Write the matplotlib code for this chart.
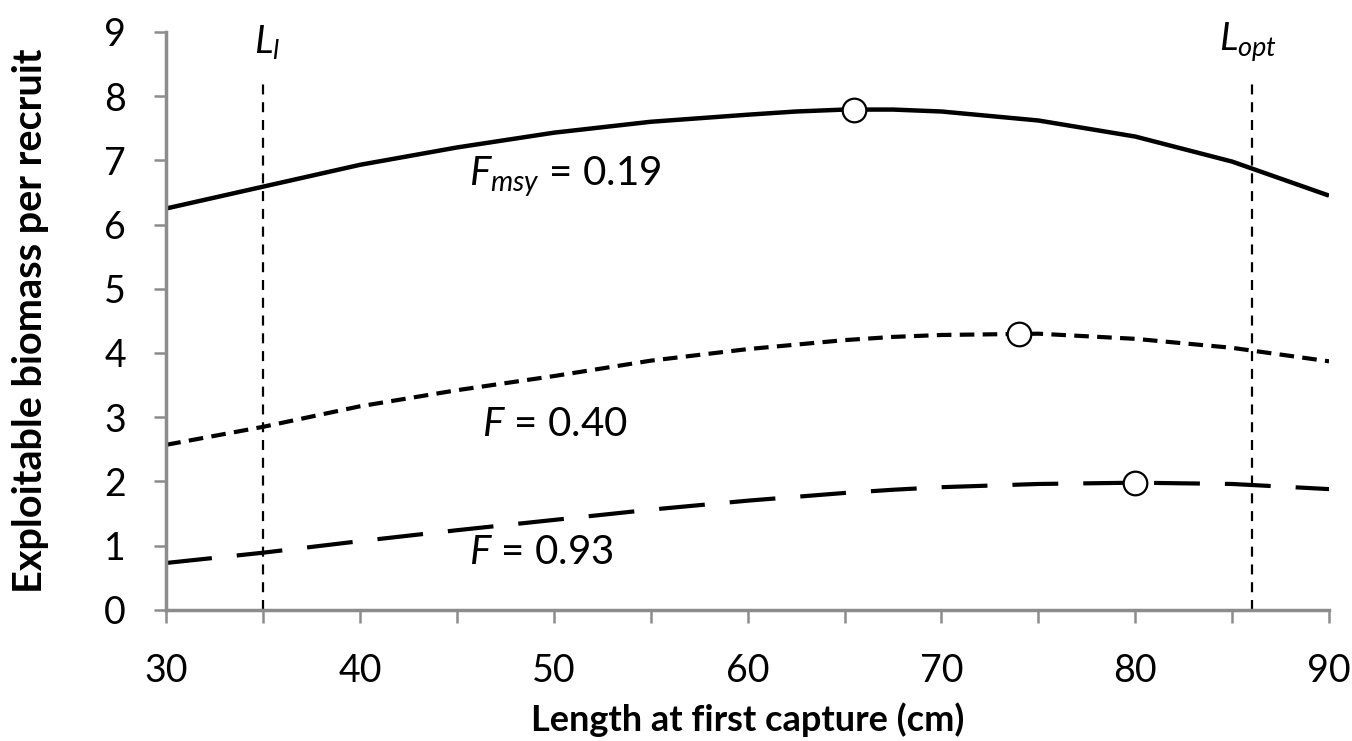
import matplotlib
matplotlib.use("Agg")
import matplotlib.pyplot as plt
from matplotlib.ticker import MultipleLocator

plt.rcParams['font.family'] = ['Lato', 'DejaVu Sans']
plt.rcParams['mathtext.fontset'] = 'custom'
plt.rcParams['mathtext.rm'] = 'Lato'
plt.rcParams['mathtext.it'] = 'Lato:italic'

# Data
length = [30, 35, 40, 45, 50, 55, 60, 62.5, 65, 67.5, 70, 75, 80, 85, 90]
b_fmsy = [6.25, 6.59, 6.93, 7.20, 7.43, 7.60, 7.71, 7.76, 7.79, 7.79, 7.76, 7.62, 7.37, 6.98, 6.45]
b_f040 = [2.57, 2.85, 3.17, 3.42, 3.64, 3.88, 4.06, 4.13, 4.20, 4.25, 4.28, 4.30, 4.22, 4.08, 3.87]
b_f093 = [0.73, 0.89, 1.07, 1.24, 1.40, 1.56, 1.70, 1.76, 1.82, 1.87, 1.91, 1.96, 1.98, 1.96, 1.88]
opt_x = [65.5, 74, 80]
opt_y = [7.79, 4.30, 1.98]
ref_lines = [35, 86]
ref_labels = [r"$\mathit{L}_{\mathit{l}}$", r"$\mathit{L}_{\mathit{opt}}$"]
curve_labels = [r"$\mathit{F}_{\mathit{msy}}$ = 0.19", r"$\mathit{F}$ = 0.40", r"$\mathit{F}$ = 0.93"]
label_pos = [(45.6, 6.75), (46.3, 2.88), (45.6, 0.89)]

fig = plt.figure(figsize=(13.52, 7.41), dpi=100)
ax = fig.add_axes([0.123, 0.177, 0.860, 0.780])

gray = '#8c8c8c'
for xv in ref_lines:
    ax.plot([xv, xv], [0, 8.2], color='black', lw=1.6, dashes=(4.5, 3.5))

ax.plot(length, b_fmsy, color='black', lw=3.2, solid_capstyle='butt')
ax.plot(length, b_f040, color='black', lw=3.0, dashes=(3.5, 2))
ax.plot(length, b_f093, color='black', lw=3.0, dashes=(11, 6))
ax.plot(opt_x, opt_y, 'o', ms=17, mfc='white', mec='black', mew=1.6, zorder=5)

for xv, lab in zip(ref_lines, ref_labels):
    ax.text(xv + (0.2 if xv < 50 else -0.2), 8.84, lab, fontsize=28, ha='center', va='center')
for (tx, ty), lab in zip(label_pos, curve_labels):
    ax.text(tx, ty, lab, fontsize=29, ha='left', va='center')

ax.set_xlim(30, 90)
ax.set_ylim(0, 9)
ax.xaxis.set_major_locator(MultipleLocator(10))
ax.xaxis.set_minor_locator(MultipleLocator(5))
ax.yaxis.set_major_locator(MultipleLocator(1))
for s in ['top', 'right']:
    ax.spines[s].set_visible(False)
for s in ['left', 'bottom']:
    ax.spines[s].set_color(gray)
    ax.spines[s].set_linewidth(2.5)
ax.tick_params(axis='both', which='both', direction='out', color=gray, width=1.8, length=9, labelsize=27)
ax.tick_params(axis='x', pad=22)
ax.tick_params(axis='y', pad=20)
ax.set_xlabel('Length at first capture (cm)', fontsize=26, fontweight='bold', labelpad=10)
ax.set_ylabel('Exploitable biomass per recruit', fontsize=28.5, fontweight='bold', labelpad=40)

fig.savefig('out.png', dpi=100)
